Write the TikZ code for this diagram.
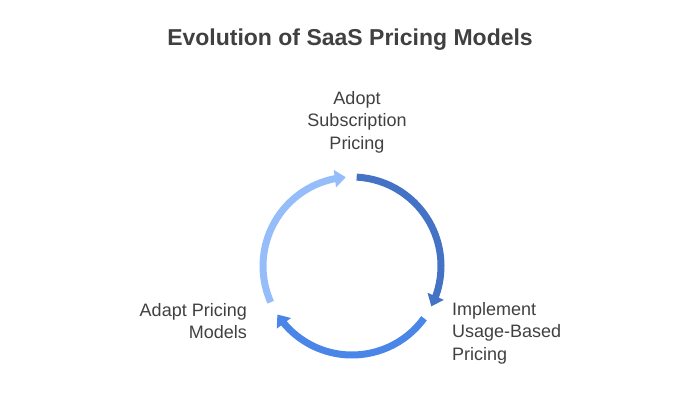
\documentclass[tikz,border=0pt]{standalone}
\usepackage{fontspec}
\setmainfont{Liberation Sans}
\usepackage{xcolor}
\usetikzlibrary{arrows.meta, bending, calc}

\definecolor{txtgray}{HTML}{404040}
\definecolor{darkblue}{HTML}{4472C4}
\definecolor{midblue}{HTML}{4A86E8}
\definecolor{lightblue}{HTML}{94BDFA}

\tikzset{
    steptext/.style={inner sep=0pt, text=txtgray, font=\fontsize{18}{22.5}\selectfont},
    cyclearrow/.style={line width=7pt, -{Triangle[length=11pt,width=17pt,flex]}}
}

\begin{document}
\begin{tikzpicture}[x=1pt,y=1pt]
        \useasboundingbox (0,0) rectangle (700,400);

        \node[inner sep=0pt, text=txtgray, font=\fontsize{23}{26}\selectfont\bfseries] (title) at (350,360) {Evolution of SaaS Pricing Models};

        \coordinate (c) at (352,134);

        \node[steptext, align=center] (adopt) at (357,278) {Adopt\\Subscription\\Pricing};
        \node[steptext, align=left, anchor=west] (impl) at (452,67) {Implement\\Usage-Based\\Pricing};
        \node[steptext, align=right, anchor=east] (adapt) at (247,79) {Adapt Pricing\\Models};

        \coordinate (s1) at ($(c)+(87:89)$);
        \coordinate (s2) at ($(c)+(-36:89)$);
        \coordinate (s3) at ($(c)+(-156:89)$);

        \draw[cyclearrow, darkblue] (s1) arc[start angle=87, end angle=-27, radius=89];
        \draw[cyclearrow, midblue] (s2) arc[start angle=-36, end angle=-147, radius=89];
        \draw[cyclearrow, lightblue] (s3) arc[start angle=204, end angle=94, radius=89];
    \end{tikzpicture}
\end{document}
